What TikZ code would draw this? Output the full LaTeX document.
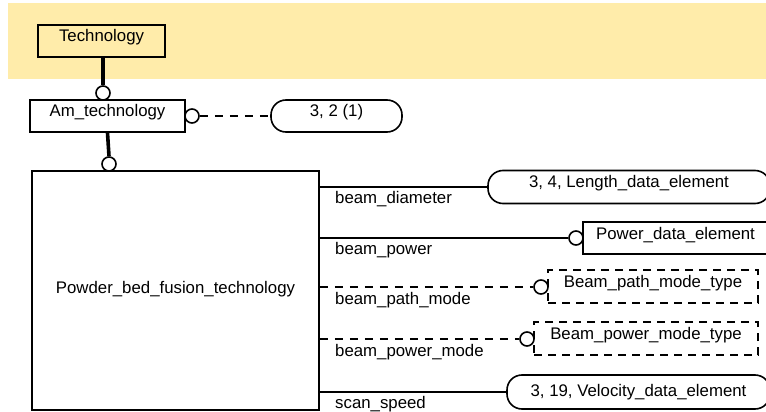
\documentclass[tikz,border=0pt]{standalone}
\usepackage{fontspec}
\setmainfont{Liberation Sans}
\definecolor{band}{RGB}{255,236,170}
\begin{document}
\begin{tikzpicture}[x=1pt,y=-1pt,
  every node/.style={font=\fontsize{16.8}{19}\selectfont},
  box/.style={draw, line width=1.6pt, inner sep=0pt, text height=17pt, text depth=15pt},
  pill/.style={box, rounded corners=15pt},
  dbox/.style={box, dash pattern=on 8pt off 6pt},
  conn/.style={line width=1.6pt},
  dconn/.style={line width=1.6pt, dash pattern=on 8pt off 7pt},
  heavy/.style={line width=3.6pt},
  ring/.style={circle, draw, line width=1.6pt, fill=white, minimum size=14pt, inner sep=0pt},
  lbl/.style={anchor=base west, inner sep=0pt}
]
\useasboundingbox (0,0) rectangle (766,412);
\clip (0,0) rectangle (766,412);
\fill[band] (8,3) rectangle (766,79);

% entity boxes
\node[box, minimum width=127pt] (tech) at (101.5,41) {Technology};
\node[box, minimum width=155pt] (am) at (107.5,116) {Am\_technology};
\node[pill, minimum width=131pt] (ref) at (336.5,116) {3, 2 (1)};
\node[box, minimum width=287pt, text height=122pt, text depth=117pt] (pbf) at (175.5,290.5) {Powder\_bed\_fusion\_technology};

\node[pill, minimum width=282pt, text depth=16pt] (len) at (629,187) {3, 4, Length\_data\_element};
\node[box, minimum width=185pt] (pow) at (675.5,238) {Power\_data\_element};
\node[dbox, minimum width=210pt, text depth=16pt] (bpm) at (653,286.5) {Beam\_path\_mode\_type};
\node[dbox, minimum width=224pt, text depth=16pt] (bpw) at (646,338.5) {Beam\_power\_mode\_type};
\node[pill, minimum width=263pt, text height=21pt, text depth=13pt] (vel) at (638.5,392) {3, 19, Velocity\_data\_element};

% rings
\node[ring] (r1) at (103,93) {};
\node[ring] (r2) at (109,164) {};
\node[ring] (r3) at (192,116) {};
\node[ring] (r4) at (576,238) {};
\node[ring] (r5) at (541,287) {};
\node[ring] (r6) at (527,339) {};

% connectors
\draw[heavy] (r1.north |- tech.south) -- (r1.north);
\draw[heavy] (am.south) -- (r2.north);
\draw[dconn] (r3.east) -- (ref.west);
\draw[conn] (pbf.east |- len.west) -- (len.west);
\draw[conn] (pbf.east |- r4.west) -- (r4.west);
\draw[dconn] (pbf.east |- r5.west) -- (r5.west);
\draw[dconn] (pbf.east |- r6.west) -- (r6.west);
\draw[conn] (pbf.east |- vel.west) -- (vel.west);

% attribute labels
\node[lbl] (l1) at (335,203) {beam\_diameter};
\node[lbl] (l2) at (335,254) {beam\_power};
\node[lbl] (l3) at (335,304) {beam\_path\_mode};
\node[lbl] (l4) at (335,356) {beam\_power\_mode};
\node[lbl] (l5) at (335,408) {scan\_speed};
\end{tikzpicture}
\end{document}
